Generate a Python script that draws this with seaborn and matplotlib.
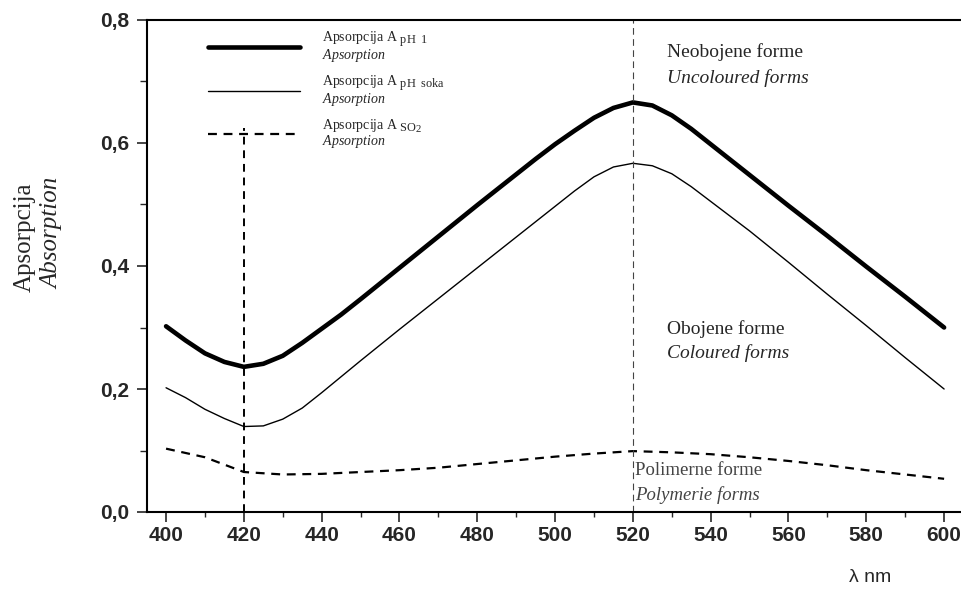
import numpy as np
import pandas as pd
import seaborn as sns
import matplotlib
import matplotlib.pyplot as plt
from matplotlib.ticker import MultipleLocator, FuncFormatter

# wavelength (nm) and absorbance
wl = [400, 405, 410, 415, 420, 425, 430, 435, 440, 445, 450, 460, 470, 480, 490,
      495, 500, 505, 510, 515, 520, 525, 530, 535, 540, 545, 550, 560, 570, 580,
      590, 600]
a_ph1 = [0.302, 0.279, 0.258, 0.244, 0.236, 0.241, 0.254, 0.275, 0.298, 0.321,
         0.346, 0.397, 0.448, 0.499, 0.549, 0.574, 0.598, 0.620, 0.641, 0.657,
         0.666, 0.661, 0.645, 0.623, 0.598, 0.573, 0.548, 0.498, 0.449, 0.399,
         0.350, 0.300]
a_phsoka = [0.202, 0.186, 0.167, 0.152, 0.139, 0.140, 0.151, 0.169, 0.194, 0.220,
            0.246, 0.297, 0.347, 0.397, 0.447, 0.472, 0.497, 0.522, 0.545, 0.561,
            0.567, 0.563, 0.550, 0.529, 0.505, 0.481, 0.457, 0.406, 0.354, 0.303,
            0.251, 0.200]
wl_so2 = [400, 410, 420, 430, 440, 450, 460, 470, 480, 490, 500, 510, 520,
          530, 540, 550, 560, 570, 580, 590, 600]
a_so2 = [0.103, 0.089, 0.065, 0.061, 0.062, 0.065, 0.068, 0.072, 0.078, 0.084,
         0.090, 0.095, 0.099, 0.097, 0.094, 0.089, 0.083, 0.076, 0.068, 0.061, 0.054]

wl_min = 420   # marked minimum
wl_max = 520   # marked maximum

lab_ph1 = 'Apsorpcija A $_{\\mathrm{pH\\ \\ 1}}$\n$\\mathit{Apsorption}$'
lab_soka = 'Apsorpcija A $_{\\mathrm{pH\\ \\ soka}}$\n$\\mathit{Apsorption}$'
lab_so2 = 'Apsorpcija A $_{\\mathrm{SO}_2}$\n$\\mathit{Apsorption}$'

# subscripts in the original are hardly smaller than the text
matplotlib._mathtext.SHRINK_FACTOR = 0.88

sns.set_style('ticks')
plt.rcParams['font.family'] = ['Liberation Serif', 'DejaVu Serif']
plt.rcParams['mathtext.fontset'] = 'custom'
plt.rcParams['mathtext.rm'] = 'Liberation Serif'
plt.rcParams['mathtext.it'] = 'Liberation Serif:italic'
plt.rcParams['mathtext.bf'] = 'Liberation Serif:bold'

fig = plt.figure(figsize=(9.62, 5.98), dpi=100)
ax = fig.add_axes([147 / 962, 1 - 512 / 598, 815 / 962, 492 / 598])

df1 = pd.DataFrame({'wl': wl, 'A': a_ph1})
df2 = pd.DataFrame({'wl': wl, 'A': a_phsoka})
df3 = pd.DataFrame({'wl': wl_so2, 'A': a_so2})
sns.lineplot(data=df1, x='wl', y='A', ax=ax, color='black', linewidth=3.3, label=lab_ph1)
sns.lineplot(data=df2, x='wl', y='A', ax=ax, color='black', linewidth=1.0, label=lab_soka)
sns.lineplot(data=df3, x='wl', y='A', ax=ax, color='black', linewidth=1.6,
             linestyle=(0, (4, 3)), label=lab_so2)

ax.vlines(wl_min, 0, 0.625, colors='black', linewidth=1.4, linestyles=(0, (4, 3)))
ax.axvline(wl_max, color='#444444', linewidth=0.8, linestyle=(0, (6, 4)))

ax.set_xlim(395.1, 604.6)
ax.set_ylim(0, 0.8)
ax.xaxis.set_major_locator(MultipleLocator(20))
ax.xaxis.set_minor_locator(MultipleLocator(10))
ax.yaxis.set_major_locator(MultipleLocator(0.2))
ax.yaxis.set_minor_locator(MultipleLocator(0.1))
ax.yaxis.set_major_formatter(FuncFormatter(lambda v, p: ('%.1f' % v).replace('.', ',')))

for lab in ax.get_xticklabels() + ax.get_yticklabels():
    lab.set_fontfamily('Liberation Sans')
    lab.set_fontweight('bold')
    lab.set_fontsize(15)
ax.tick_params(axis='x', which='major', length=7, width=1.2, pad=3)
ax.tick_params(axis='x', which='minor', length=3.5, width=1.0)
ax.tick_params(axis='y', which='major', length=7, width=1.2, pad=6)
ax.tick_params(axis='y', which='minor', length=5, width=1.0)

ax.spines['right'].set_visible(False)
for s in ['left', 'bottom', 'top']:
    ax.spines[s].set_linewidth(1.5)
    ax.spines[s].set_color('black')

ax.set_xlabel('λ nm', fontfamily='Liberation Sans', fontsize=14)
ax.xaxis.set_label_coords(0.887, -0.115)
ax.set_ylabel('')

fig.text(25 / 962, 1 - 237 / 598, 'Apsorpcija', rotation=90, ha='center', va='center', fontsize=18)
fig.text(52 / 962, 1 - 233 / 598, 'Absorption', rotation=90, ha='center', va='center',
         fontsize=18, style='italic')

ax.text(528.8, 0.748, 'Neobojene forme', fontsize=14, va='center')
ax.text(528.8, 0.706, 'Uncoloured forms', fontsize=14, va='center', style='italic')
ax.text(528.8, 0.298, 'Obojene forme', fontsize=14, va='center')
ax.text(528.8, 0.258, 'Coloured forms', fontsize=14, va='center', style='italic')
ax.text(520.6, 0.067, 'Polimerne forme', fontsize=13.5, va='center', color='#444444')
ax.text(520.6, 0.028, 'Polymerie forms', fontsize=13.5, va='center', color='#444444',
        style='italic')

leg = ax.legend(loc='upper left', bbox_to_anchor=((208 - 147) / 815, 0.98), frameon=False,
                fontsize=10, borderpad=0, borderaxespad=0, handlelength=6.6,
                handletextpad=1.6, labelspacing=0.7)
for t in leg.get_texts():
    t.set_linespacing(0.8)

plt.savefig('out.png', dpi=100)
plt.close('all')
